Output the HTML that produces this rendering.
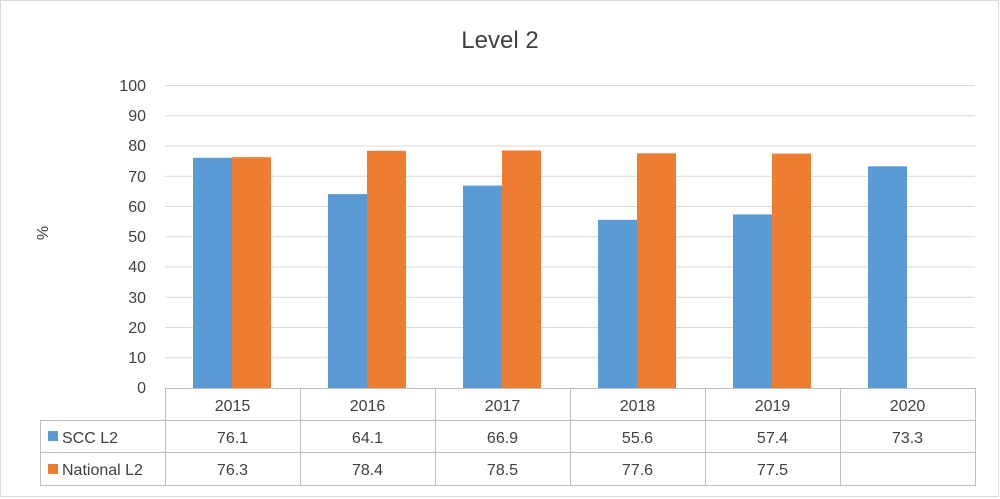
<!DOCTYPE html>
<html><head><style>body{margin:0;background:#fff}svg{display:block}text{font-family:"Liberation Sans",sans-serif;fill:#404040}</style></head><body>
<svg width="1000" height="499" viewBox="0 0 1000 499" xmlns="http://www.w3.org/2000/svg">
<rect x="0.5" y="0.5" width="998" height="496" fill="#fff" stroke="#d9d9d9"/>
<text x="500" y="48" font-size="24" text-anchor="middle">Level 2</text>
<text x="52" y="237" font-size="16" text-anchor="middle" transform="rotate(-90 48 237)">%</text>
<g stroke="#d9d9d9" stroke-width="1">
<line x1="165" x2="975" y1="85.5" y2="85.5"/><line x1="165" x2="975" y1="115.8" y2="115.8"/><line x1="165" x2="975" y1="146" y2="146"/><line x1="165" x2="975" y1="176.3" y2="176.3"/><line x1="165" x2="975" y1="206.5" y2="206.5"/><line x1="165" x2="975" y1="236.8" y2="236.8"/><line x1="165" x2="975" y1="267" y2="267"/><line x1="165" x2="975" y1="297.3" y2="297.3"/><line x1="165" x2="975" y1="327.5" y2="327.5"/><line x1="165" x2="975" y1="357.8" y2="357.8"/>
</g>
<g font-size="16" text-anchor="end">
<text x="146" y="91">100</text><text x="146" y="121">90</text><text x="146" y="151">80</text><text x="146" y="182">70</text><text x="146" y="212">60</text><text x="146" y="242">50</text><text x="146" y="272">40</text><text x="146" y="303">30</text><text x="146" y="333">20</text><text x="146" y="363">10</text><text x="146" y="393">0</text>
</g>
<g fill="#5b9bd5">
<rect x="193" y="157.8" width="39" height="230.2"/>
<rect x="328" y="194.1" width="39" height="193.9"/>
<rect x="463" y="185.6" width="39" height="202.4"/>
<rect x="598" y="219.8" width="39" height="168.2"/>
<rect x="733" y="214.4" width="39" height="173.6"/>
<rect x="868" y="166.3" width="39" height="221.7"/>
</g>
<g fill="#ed7d31">
<rect x="232" y="157.2" width="39" height="230.8"/>
<rect x="367" y="150.8" width="39" height="237.2"/>
<rect x="502" y="150.5" width="39" height="237.5"/>
<rect x="637" y="153.3" width="39" height="234.7"/>
<rect x="772" y="153.6" width="39" height="234.4"/>
</g>
<g stroke="#bfbfbf" stroke-width="1" fill="none">
<line x1="165" x2="975" y1="388.5" y2="388.5"/>
<line x1="40" x2="975" y1="420.5" y2="420.5"/>
<line x1="40" x2="975" y1="452.5" y2="452.5"/>
<line x1="40" x2="975" y1="485.5" y2="485.5"/>
<line x1="40.5" x2="40.5" y1="420" y2="486"/>
<line x1="165.5" x2="165.5" y1="388" y2="486"/>
<line x1="300.5" x2="300.5" y1="388" y2="486"/>
<line x1="435.5" x2="435.5" y1="388" y2="486"/>
<line x1="570.5" x2="570.5" y1="388" y2="486"/>
<line x1="705.5" x2="705.5" y1="388" y2="486"/>
<line x1="840.5" x2="840.5" y1="388" y2="486"/>
<line x1="975.5" x2="975.5" y1="388" y2="486"/>
</g>
<g font-size="16" text-anchor="middle">
<text x="232.5" y="411">2015</text><text x="367.5" y="411">2016</text><text x="502.5" y="411">2017</text><text x="637.5" y="411">2018</text><text x="772.5" y="411">2019</text><text x="907.5" y="411">2020</text>
<text x="232.5" y="443">76.1</text><text x="367.5" y="443">64.1</text><text x="502.5" y="443">66.9</text><text x="637.5" y="443">55.6</text><text x="772.5" y="443">57.4</text><text x="907.5" y="443">73.3</text>
<text x="232.5" y="475">76.3</text><text x="367.5" y="475">78.4</text><text x="502.5" y="475">78.5</text><text x="637.5" y="475">77.6</text><text x="772.5" y="475">77.5</text>
</g>
<rect x="48" y="431" width="10" height="10" fill="#5b9bd5"/>
<rect x="48" y="464" width="10" height="10" fill="#ed7d31"/>
<text x="62" y="443" font-size="16">SCC L2</text>
<text x="62" y="475" font-size="16">National L2</text>
</svg>
</body></html>
